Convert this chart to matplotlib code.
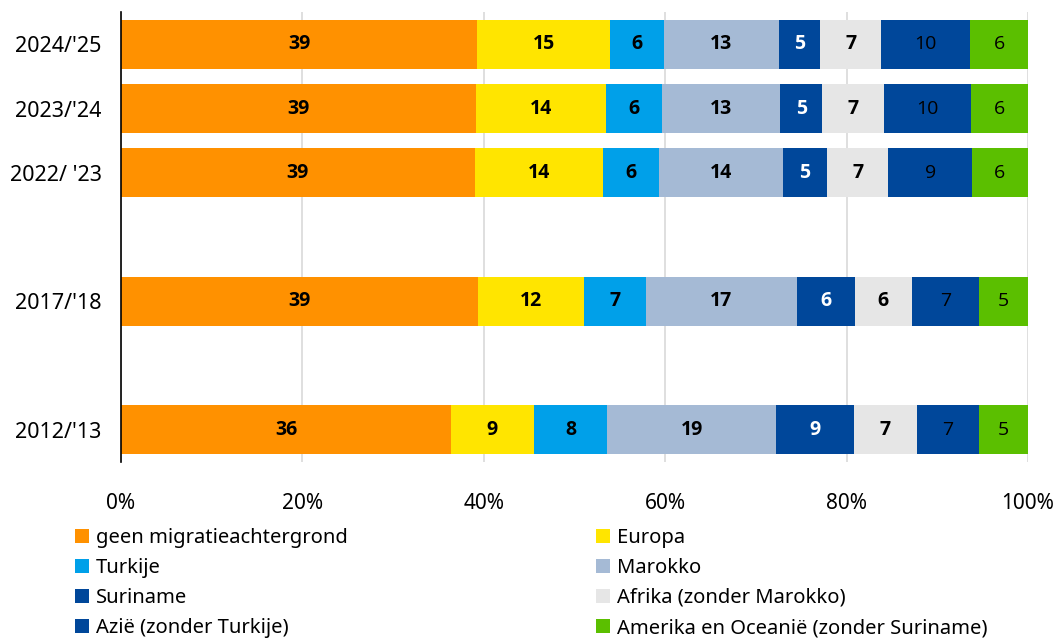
import matplotlib
matplotlib.use("Agg")
import matplotlib.pyplot as plt
from matplotlib.patches import Patch
import numpy as np

plt.rcParams['font.family'] = ['Noto Sans', 'DejaVu Sans']

# data (percent)
years = ["2024/'25", "2023/'24", "2022/ '23", "2017/'18", "2012/'13"]
ypos = [0, 1, 2, 4, 6]
groups = ["geen migratieachtergrond", "Europa", "Turkije", "Marokko",
          "Suriname", "Afrika (zonder Marokko)", "Azië (zonder Turkije)",
          "Amerika en Oceanië (zonder Suriname)"]
geen = [39.3, 39.1, 39.0, 39.4, 36.4]
europa = [14.6, 14.4, 14.1, 11.6, 9.1]
turkije = [6.0, 6.1, 6.2, 6.9, 8.1]
marokko = [12.6, 13.1, 13.7, 16.6, 18.6]
suriname = [4.6, 4.6, 4.8, 6.4, 8.6]
afrika = [6.7, 6.8, 6.8, 6.3, 6.9]
azie = [9.8, 9.6, 9.2, 7.4, 6.9]
amerika = [6.4, 6.3, 6.2, 5.4, 5.4]
series = [geen, europa, turkije, marokko, suriname, afrika, azie, amerika]

colors = ["#FF9100", "#FFE500", "#00A0E9", "#A5BAD5", "#00479A",
          "#E6E6E6", "#00479A", "#5BBF00"]
label_color = ["black", "black", "black", "black", "white", "black", "black", "black"]
label_weight = ["bold", "bold", "bold", "bold", "bold", "bold", "normal", "normal"]

fig = plt.figure(figsize=(10.61, 6.39), dpi=100)
ax = fig.add_axes([0.114, 0.277, 0.855, 0.704])

left = np.zeros(len(years))
for i, vals in enumerate(series):
    vals = np.array(vals)
    ax.barh(ypos, vals, left=left, height=0.76, color=colors[i],
            linewidth=0, zorder=3)
    for y, l, v in zip(ypos, left, vals):
        ax.text(l + v / 2, y, f"{v:.0f}", ha="center", va="center",
                fontsize=14, color=label_color[i], fontweight=label_weight[i],
                family=["Open Sans", "DejaVu Sans"], zorder=4)
    left += vals

ax.set_xlim(0, 100)
ax.set_ylim(6.5, -0.5)
ax.set_yticks(ypos)
ax.set_yticklabels(years, fontsize=15.5)
ax.set_xticks([0, 20, 40, 60, 80, 100])
ax.set_xticklabels([f"{t}%" for t in [0, 20, 40, 60, 80, 100]], fontsize=15)
ax.tick_params(axis="both", length=0)
ax.tick_params(axis="x", pad=22)
ax.tick_params(axis="y", pad=14)
ax.grid(axis="x", color="#D9D9D9", linewidth=1.2, zorder=0)
for s in ["top", "right", "bottom"]:
    ax.spines[s].set_visible(False)
ax.spines["left"].set_color("black")
ax.spines["left"].set_linewidth(1.2)
ax.spines["left"].set_zorder(5)

handles = [Patch(facecolor=c, edgecolor="none") for c in colors]
col1 = [0, 2, 4, 6]
col2 = [1, 3, 5, 7]
for idx, x0 in [(col1, 0.071), (col2, 0.562)]:
    fig.legend([handles[k] for k in idx], [groups[k] for k in idx],
               loc="upper left", bbox_to_anchor=(x0, 0.174),
               frameon=False, fontsize=14.5, handlelength=0.67,
               handleheight=0.67, handletextpad=0.35, labelspacing=0.5,
               borderaxespad=0, borderpad=0)

fig.savefig("out.png", dpi=100)
